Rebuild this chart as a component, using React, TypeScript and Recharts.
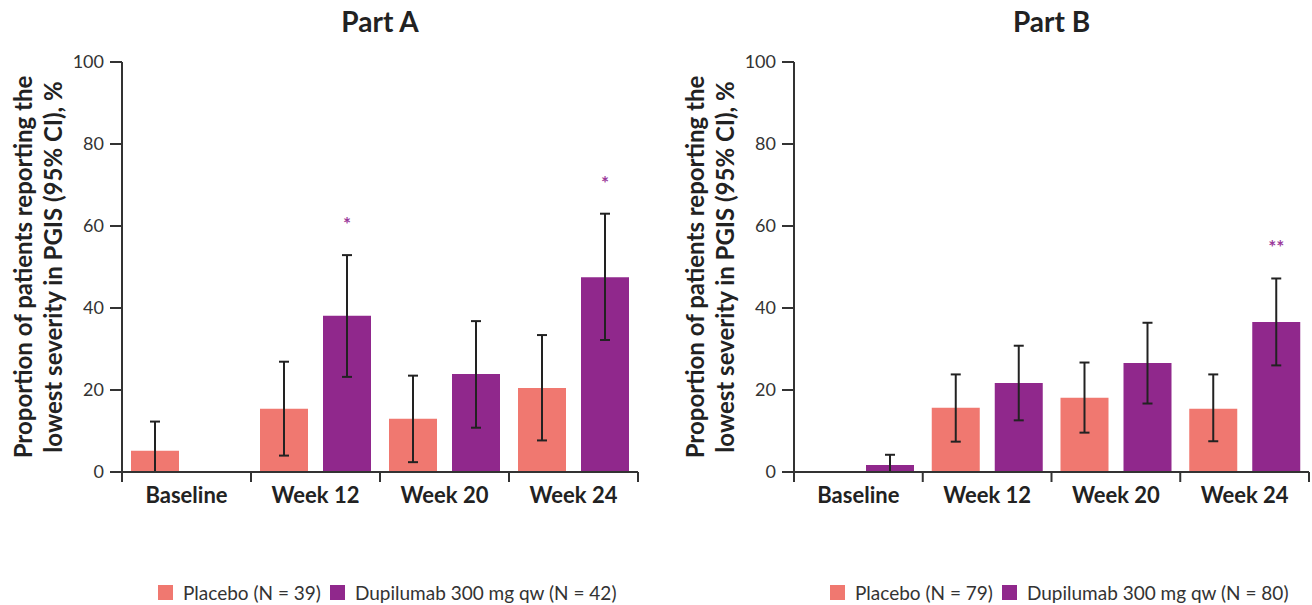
import { BarChart, Bar, XAxis, YAxis, ErrorBar, LabelList } from 'recharts';

const categories = ['Baseline', 'Week 12', 'Week 20', 'Week 24'];

// Part A
const aPlacebo = [5.2, 15.4, 13.0, 20.5];
const aPlaceboLow = [0, 4.0, 2.4, 7.7];
const aPlaceboHigh = [12.3, 26.9, 23.5, 33.4];
const aDupi = [null, 38.1, 23.9, 47.5];
const aDupiLow = [null, 23.2, 10.8, 32.2];
const aDupiHigh = [null, 52.9, 36.8, 63.0];
const aSig = ['', '*', '', '*'];

// Part B
const bPlacebo = [null, 15.7, 18.1, 15.4];
const bPlaceboLow = [null, 7.4, 9.6, 7.5];
const bPlaceboHigh = [null, 23.8, 26.7, 23.8];
const bDupi = [1.7, 21.7, 26.6, 36.6];
const bDupiLow = [0, 12.6, 16.7, 26.0];
const bDupiHigh = [4.2, 30.8, 36.4, 47.2];
const bSig = ['', '', '', '**'];

const yTicks = [0, 20, 40, 60, 80, 100];

const FONT = 'Lato, "Open Sans", sans-serif';
const PLACEBO = '#F07870';
const DUPI = '#90288C';
const AXIS = '#333';
const TICK_MARGIN = 15;

type Num = number | null;

function errOf(v: Num, lo: Num, hi: Num) {
  if (v == null || lo == null || hi == null) return null;
  return [v - lo, hi - v];
}

function buildRows(p: Num[], pl: Num[], ph: Num[], d: Num[], dl: Num[], dh: Num[], sig: string[]) {
  return categories.map((name, i) => ({
    name,
    placebo: p[i],
    placeboErr: errOf(p[i], pl[i], ph[i]),
    dupi: d[i],
    dupiErr: errOf(d[i], dl[i], dh[i]),
    dupiHigh: dh[i],
    sig: sig[i],
  }));
}

const partA = buildRows(aPlacebo, aPlaceboLow, aPlaceboHigh, aDupi, aDupiLow, aDupiHigh, aSig);
const partB = buildRows(bPlacebo, bPlaceboLow, bPlaceboHigh, bDupi, bDupiLow, bDupiHigh, bSig);

function YLabel(props: any) {
  const vb = props.viewBox;
  const right = vb.x + vb.width;
  const cy = vb.y + vb.height / 2;
  const lines = ['Proportion of patients reporting the', 'lowest severity in PGIS (95% CI), %'];
  return (
    <g>
      {lines.map((t, i) => {
        const x = right - 100 + i * 30;
        return (
          <text
            key={i}
            x={x}
            y={cy}
            transform={`rotate(-90, ${x}, ${cy})`}
            textAnchor="middle"
            dominantBaseline="central"
            fontFamily={FONT}
            fontWeight={700}
            fontSize={24}
            fill="#222"
          >
            {t}
          </text>
        );
      })}
    </g>
  );
}

// category label centred, tick marks on the category boundaries
function CatTick(props: any) {
  const { x, y, payload } = props;
  const half = payload.offset || 0;
  const axisY = y - TICK_MARGIN;
  const isLast = payload.value === categories[categories.length - 1];
  return (
    <g>
      <line x1={x - half} x2={x - half} y1={axisY} y2={axisY + 10} stroke={AXIS} strokeWidth={2} />
      {isLast && <line x1={x + half} x2={x + half} y1={axisY} y2={axisY + 10} stroke={AXIS} strokeWidth={2} />}
      <text x={x} y={y} dy="0.71em" textAnchor="middle" fontFamily={FONT} fontSize={22} fontWeight={700} fill="#222">
        {payload.value}
      </text>
    </g>
  );
}

function makeSig(rows: any[]) {
  return (props: any) => {
    const row = rows.find((r) => r.name === props.value);
    if (!row || !row.sig || row.dupi == null) return null;
    const vb = props.viewBox ?? props;
    const bottom = vb.y + vb.height;
    const perUnit = vb.height / row.dupi;
    const cx = vb.x + vb.width / 2;
    const yHigh = bottom - row.dupiHigh * perUnit;
    return (
      <text x={cx} y={yHigh - 24} textAnchor="middle" fontFamily={FONT} fontSize={19} fontWeight={700} fill="#9B3A9B">
        {row.sig}
      </text>
    );
  };
}

function Panel({ rows, title, left, marginLeft, marginRight, legend }: any) {
  const plotLeft = marginLeft + 60;
  const plotRight = 656 - marginRight;
  return (
    <div style={{ position: 'absolute', left, top: 0, width: 656, height: 605 }}>
      <div
        style={{
          position: 'absolute',
          left: plotLeft,
          width: plotRight - plotLeft,
          top: 4,
          textAlign: 'center',
          fontFamily: FONT,
          fontWeight: 700,
          fontSize: 28,
          color: '#222',
        }}
      >
        {title}
      </div>
      <BarChart
        width={656}
        height={605}
        data={rows}
        margin={{ top: 62, right: marginRight, left: marginLeft, bottom: 102 }}
        barSize={48}
        barGap={15}
      >
        <XAxis
          dataKey="name"
          height={31}
          axisLine={{ stroke: AXIS, strokeWidth: 2 }}
          tickLine={false}
          tickSize={0}
          tickMargin={TICK_MARGIN}
          tick={CatTick}
        />
        <YAxis
          domain={[0, 100]}
          ticks={yTicks}
          width={60}
          tickSize={12}
          tickMargin={6}
          axisLine={{ stroke: AXIS, strokeWidth: 2 }}
          tickLine={{ stroke: AXIS, strokeWidth: 2 }}
          tick={{ fontFamily: FONT, fontSize: 18, fill: '#333' }}
          label={{ content: YLabel }}
        />
        <Bar dataKey="placebo" fill={PLACEBO} isAnimationActive={false}>
          <ErrorBar dataKey="placeboErr" width={5} stroke="#222" strokeWidth={2} direction="y" />
        </Bar>
        <Bar dataKey="dupi" fill={DUPI} isAnimationActive={false}>
          <ErrorBar dataKey="dupiErr" width={5} stroke="#222" strokeWidth={2} direction="y" />
          <LabelList dataKey="name" content={makeSig(rows)} />
        </Bar>
      </BarChart>
      <div
        style={{
          position: 'absolute',
          left: plotLeft + 36,
          top: 581,
          display: 'flex',
          alignItems: 'center',
          fontFamily: FONT,
          fontSize: 19,
          color: '#333',
          whiteSpace: 'nowrap',
        }}
      >
        <span style={{ width: 15, height: 15, background: PLACEBO, display: 'inline-block', marginRight: 10 }} />
        <span style={{ marginRight: 9 }}>{legend[0]}</span>
        <span style={{ width: 15, height: 15, background: DUPI, display: 'inline-block', marginRight: 10 }} />
        <span>{legend[1]}</span>
      </div>
    </div>
  );
}

export default function App() {
  return (
    <div style={{ position: 'absolute', left: 0, top: 0, width: 1312, height: 605, background: '#fff' }}>
      <Panel
        rows={partA}
        title="Part A"
        left={0}
        marginLeft={62}
        marginRight={18}
        legend={['Placebo (N = 39)', 'Dupilumab 300 mg qw (N = 42)']}
      />
      <Panel
        rows={partB}
        title="Part B"
        left={656}
        marginLeft={78}
        marginRight={3}
        legend={['Placebo (N = 79)', 'Dupilumab 300 mg qw (N = 80)']}
      />
    </div>
  );
}
